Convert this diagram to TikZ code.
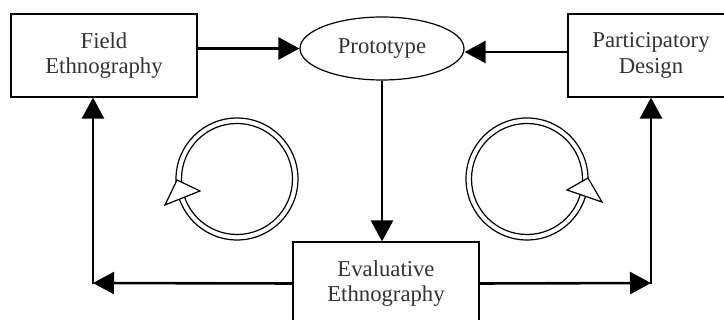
\documentclass[tikz,border=0pt]{standalone}
\usepackage{fontspec}
\setmainfont{Liberation Serif}
\usetikzlibrary{arrows.meta,shapes.geometric}
\begin{document}
\begin{tikzpicture}[x=1pt,y=1pt,
  lbl/.style={font=\fontsize{22.7}{25.5}\selectfont, text=black!80},
  box/.style={lbl, draw, line width=1.2pt, minimum width=186pt, minimum height=83pt, align=center, inner sep=0pt},
  conn/.style={line width=2.6pt, -{Triangle[length=21pt,width=22pt]}},
  ring/.style={line width=1.2pt},
  ringhead/.style={line width=1.2pt, fill=white, line join=miter}]
\clip (0,0) rectangle (724,320);
\fill[white] (0,0) rectangle (724,320);
\node[box] (field) at (104,264.5) {Field\\Ethnography};
\node[box, minimum width=166pt] (part) at (651,264.5) {Participatory\\Design};
\node[box] (eval) at (386,36.5) {Evaluative\\Ethnography};
\node[lbl, draw, ellipse, line width=1.2pt, minimum width=164pt, minimum height=63pt, inner sep=0pt] (proto) at (382,271.5) {Prototype};
\coordinate (cl) at (93,37);
\coordinate (cr) at (651,37);
\draw[conn] (field.east |- proto.west) -- (proto.west);
\draw[conn] (part.west |- 0,268) -- (proto.east |- 0,268);
\draw[conn] (proto.south) -- (proto.south |- eval.north);
\draw[conn] (eval.west) -- (cl);
\draw[conn] ([yshift=-1.3pt]cl) -- (field.south -| cl);
\draw[conn] (eval.east) -- (cr);
\draw[conn] ([yshift=-1.3pt]cr) -- (part.south -| cr);
% left cycle
\draw[ring] (237,141) circle (61) (237,141) circle (55.5);
\draw[ringhead] (177,140) -- (200,129) -- (165,115) -- cycle;
% right cycle
\draw[ring] (527,141) circle (61) (527,141) circle (55.5);
\draw[ringhead] (588,142) -- (567,130) -- (602,118) -- cycle;
\end{tikzpicture}
\end{document}
